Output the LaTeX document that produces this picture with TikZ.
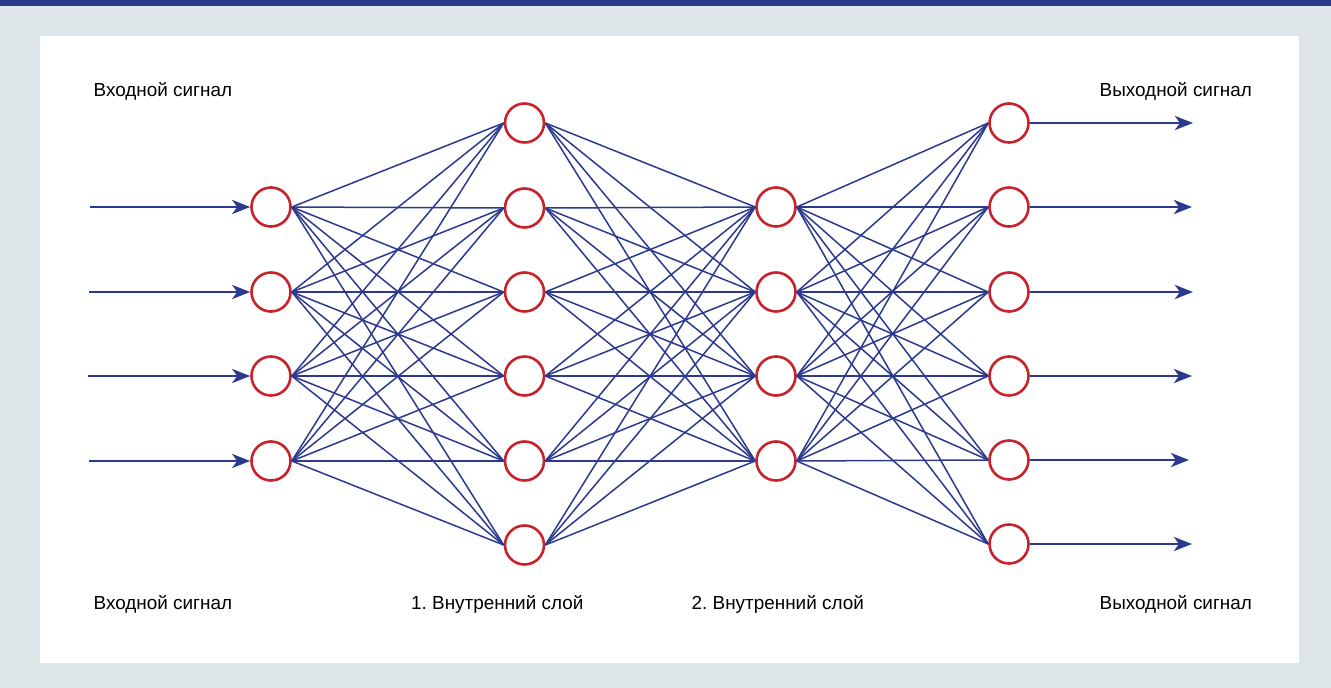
\documentclass[tikz,border=0pt]{standalone}
\usepackage{fontspec}
\setmainfont{Liberation Sans}
\usetikzlibrary{arrows.meta}
\definecolor{netblue}{HTML}{2B3A8F}
\definecolor{netred}{HTML}{C8222B}
\definecolor{pagebg}{HTML}{DFE6EA}
\definecolor{barblue}{HTML}{283A88}
\frenchspacing

\begin{document}
\begin{tikzpicture}[x=1pt,y=-1pt,
  neuron/.style={circle, draw=netred, line width=2.6pt, fill=white,
    minimum size=39pt, inner sep=0pt, outer sep=1.3pt},
  link/.style={draw=netblue, line width=1.5pt},
  signal/.style={draw=netblue, line width=2.9pt,
    -{Stealth[length=18pt,width=14pt,inset=5pt]}},
  caption/.style={anchor=base west, inner sep=0pt, text=black,
    font=\fontsize{18.9}{22}\selectfont}]

  % page background, top bar and white panel
  \useasboundingbox (0,0) rectangle (1331,688);
  \fill[pagebg] (0,0) rectangle (1331,688);
  \fill[barblue] (0,0) rectangle (1331,6);
  \fill[white] (40,36) rectangle (1299,663);

  % layers of neurons
  \foreach \y [count=\i] in {207,292,376,461}
    \node[neuron] (a\i) at (271,\y) {};
  \foreach \y [count=\i] in {123,208,292,376,461,545}
    \node[neuron] (b\i) at (524.5,\y) {};
  \foreach \y [count=\i] in {207,292,376,461}
    \node[neuron] (c\i) at (776,\y) {};
  \foreach \y [count=\i] in {123,207,292,376,460,544}
    \node[neuron] (d\i) at (1009,\y) {};

  % full connections between neighbouring layers
  \foreach \i in {1,...,4}
    \foreach \j in {1,...,6}
      \draw[link] (a\i.east) -- (b\j.west);
  \foreach \i in {1,...,6}
    \foreach \j in {1,...,4}
      \draw[link] (b\i.east) -- (c\j.west);
  \foreach \i in {1,...,4}
    \foreach \j in {1,...,6}
      \draw[link] (c\i.east) -- (d\j.west);

  % input signals
  \foreach \y/\x [count=\i] in {207/90,292/88.5,376/88,461/88.5} {
    \coordinate (s\i) at (\x,\y);
    \draw[signal] (s\i) -- (a\i.west);
  }

  % output signals
  \foreach \y/\x [count=\i] in {123/1193,207/1192,292/1193,376/1192,460/1189,544/1192} {
    \coordinate (t\i) at (\x,\y);
    \draw[signal] (d\i.east) -- (t\i);
  }

  % captions
  \node[caption] (inTop)  at (93.5,96.5)  {Входной сигнал};
  \node[caption] (inBot)  at (93.5,609)   {Входной сигнал};
  \node[caption] (h1)     at (411,609)    {1. Внутренний слой};
  \node[caption] (h2)     at (691.5,609)  {2. Внутренний слой};
  \node[caption] (outTop) at (1099.5,96.5) {Выходной сигнал};
  \node[caption] (outBot) at (1099.5,609)  {Выходной сигнал};
\end{tikzpicture}
\end{document}
